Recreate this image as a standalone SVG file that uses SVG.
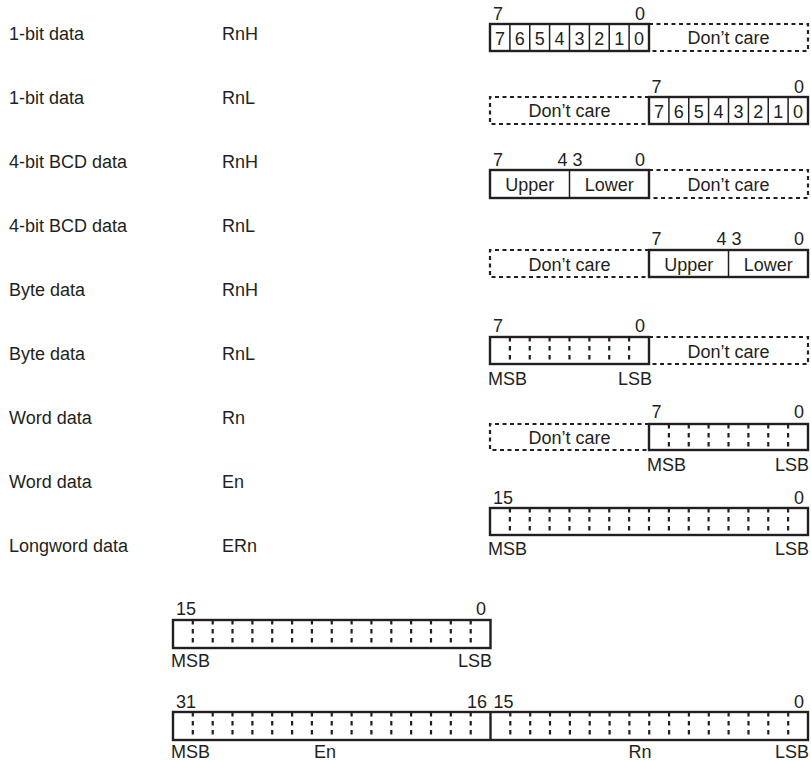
<svg xmlns="http://www.w3.org/2000/svg" width="811" height="761" viewBox="0 0 811 761">
<style>
.t{font-family:"Liberation Sans",Arial,sans-serif;font-size:18px;fill:#231f20}
.m{text-anchor:middle}
.e{text-anchor:end}
.box{fill:none;stroke:#231f20;stroke-width:2.4}
.dv{fill:none;stroke:#231f20;stroke-width:1.5}
.dash{fill:none;stroke:#231f20;stroke-width:2.2;stroke-dasharray:4 3.5}
.tick{fill:none;stroke:#231f20;stroke-width:2.2;stroke-dasharray:4.5 4.5}
</style>
<rect width="811" height="761" fill="#fff"/>
<g id="labels">
<text class="t" x="9" y="39.5">1-bit data</text><text class="t" x="222" y="39.5">RnH</text>
<text class="t" x="9" y="103.5">1-bit data</text><text class="t" x="222" y="103.5">RnL</text>
<text class="t" x="9" y="167.5">4-bit BCD data</text><text class="t" x="222" y="167.5">RnH</text>
<text class="t" x="9" y="231.5">4-bit BCD data</text><text class="t" x="222" y="231.5">RnL</text>
<text class="t" x="9" y="295.5">Byte data</text><text class="t" x="222" y="295.5">RnH</text>
<text class="t" x="9" y="359.5">Byte data</text><text class="t" x="222" y="359.5">RnL</text>
<text class="t" x="9" y="423.5">Word data</text><text class="t" x="222" y="423.5">Rn</text>
<text class="t" x="9" y="487.5">Word data</text><text class="t" x="222" y="487.5">En</text>
<text class="t" x="9" y="551.5">Longword data</text><text class="t" x="222" y="551.5">ERn</text>
</g>
<g id="reg1">
<text class="t" x="493" y="20">7</text><text class="t e" x="645" y="20">0</text>
<path class="dash" d="M649,24 H808 V51 H649"/>
<rect class="box" x="490" y="24" width="159" height="27"/>
<path class="dv" d="M509.9,24V51M529.75,24V51M549.6,24V51M569.5,24V51M589.4,24V51M609.25,24V51M629.1,24V51"/>
<g class="t m"><text x="500" y="45">7</text><text x="519.8" y="45">6</text><text x="539.7" y="45">5</text><text x="559.6" y="45">4</text><text x="579.4" y="45">3</text><text x="599.3" y="45">2</text><text x="619.2" y="45">1</text><text x="639.1" y="45">0</text></g>
<text class="t m" x="728.5" y="44">Don’t care</text>
</g>
<g id="reg2">
<text class="t" x="651.5" y="93">7</text><text class="t e" x="804" y="93">0</text>
<path class="dash" d="M649,97 H490 V124 H649"/>
<rect class="box" x="649" y="97" width="159" height="27"/>
<path class="dv" d="M668.9,97V124M688.75,97V124M708.6,97V124M728.5,97V124M748.4,97V124M768.25,97V124M788.1,97V124"/>
<g class="t m"><text x="658.9" y="118">7</text><text x="678.8" y="118">6</text><text x="698.7" y="118">5</text><text x="718.6" y="118">4</text><text x="738.4" y="118">3</text><text x="758.3" y="118">2</text><text x="778.2" y="118">1</text><text x="798.1" y="118">0</text></g>
<text class="t m" x="569.5" y="117">Don’t care</text>
</g>
<g id="reg3">
<text class="t" x="493" y="166">7</text><text class="t e" x="567.5" y="166">4</text><text class="t" x="572.5" y="166">3</text><text class="t e" x="645" y="166">0</text>
<path class="dash" d="M649,170 H808 V198 H649"/>
<rect class="box" x="490" y="170" width="159" height="28"/>
<path class="dv" d="M569.5,170V198"/>
<text class="t m" x="529.75" y="191">Upper</text><text class="t m" x="609.25" y="191">Lower</text>
<text class="t m" x="728.5" y="191">Don’t care</text>
</g>
<g id="reg4">
<text class="t" x="651.5" y="245">7</text><text class="t e" x="726.5" y="245">4</text><text class="t" x="731.5" y="245">3</text><text class="t e" x="804" y="245">0</text>
<path class="dash" d="M649,250 H490 V277 H649"/>
<rect class="box" x="649" y="250" width="159" height="27"/>
<path class="dv" d="M728.5,250V277"/>
<text class="t m" x="688.75" y="270.5">Upper</text><text class="t m" x="768.25" y="270.5">Lower</text>
<text class="t m" x="569.5" y="270.5">Don’t care</text>
</g>
<g id="reg5">
<text class="t" x="493" y="332">7</text><text class="t e" x="645" y="332">0</text>
<path class="dash" d="M649,337 H808 V364 H649"/>
<rect class="box" x="490" y="337" width="159" height="27"/>
<path class="tick" d="M509.9,337V364M529.75,337V364M549.6,337V364M569.5,337V364M589.4,337V364M609.25,337V364M629.1,337V364"/>
<text class="t m" x="728.5" y="357.5">Don’t care</text>
<text class="t" x="488" y="385">MSB</text><text class="t e" x="652" y="385">LSB</text>
</g>
<g id="reg6">
<text class="t" x="651.5" y="418">7</text><text class="t e" x="804" y="418">0</text>
<path class="dash" d="M649,424 H490 V450 H649"/>
<rect class="box" x="649" y="424" width="159" height="26"/>
<path class="tick" d="M668.9,424V450M688.75,424V450M708.6,424V450M728.5,424V450M748.4,424V450M768.25,424V450M788.1,424V450"/>
<text class="t m" x="569.5" y="443.5">Don’t care</text>
<text class="t" x="647" y="471">MSB</text><text class="t e" x="809" y="471">LSB</text>
</g>
<g id="reg7">
<text class="t" x="493" y="504">15</text><text class="t e" x="804" y="504">0</text>
<rect class="box" x="490" y="508" width="318" height="27"/>
<path class="tick" d="M509.9,508V535M529.75,508V535M549.6,508V535M569.5,508V535M589.4,508V535M609.25,508V535M629.1,508V535M649,508V535M668.9,508V535M688.75,508V535M708.6,508V535M728.5,508V535M748.4,508V535M768.25,508V535M788.1,508V535"/>
<text class="t" x="488" y="555">MSB</text><text class="t e" x="809" y="555">LSB</text>
</g>
<g id="reg8">
<text class="t" x="176" y="615">15</text><text class="t e" x="486" y="615">0</text>
<rect class="box" x="173" y="620" width="317.5" height="28"/>
<path class="tick" d="M192.8,620V648M212.7,620V648M232.5,620V648M252.4,620V648M272.2,620V648M292.1,620V648M311.9,620V648M331.75,620V648M351.6,620V648M371.4,620V648M391.3,620V648M411.1,620V648M431,620V648M450.8,620V648M470.7,620V648"/>
<text class="t" x="171" y="667">MSB</text><text class="t e" x="492" y="667">LSB</text>
</g>
<g id="reg9">
<text class="t" x="176" y="708">31</text><text class="t e" x="487" y="708">16</text><text class="t" x="493.5" y="708">15</text><text class="t e" x="804" y="708">0</text>
<rect class="box" x="173" y="712" width="635" height="28"/>
<path class="dv" d="M490.5,712V740" style="stroke-width:2.4"/>
<path class="tick" d="M192.8,712V740M212.7,712V740M232.5,712V740M252.4,712V740M272.2,712V740M292.1,712V740M311.9,712V740M331.75,712V740M351.6,712V740M371.4,712V740M391.3,712V740M411.1,712V740M431,712V740M450.8,712V740M470.7,712V740M510.3,712V740M530.2,712V740M550,712V740M569.9,712V740M589.7,712V740M609.6,712V740M629.4,712V740M649.25,712V740M669.1,712V740M688.9,712V740M708.8,712V740M728.6,712V740M748.5,712V740M768.3,712V740M788.2,712V740"/>
<text class="t" x="171" y="758">MSB</text><text class="t m" x="325" y="758">En</text><text class="t m" x="640" y="758">Rn</text><text class="t e" x="809" y="758">LSB</text>
</g>
<g id="connectors"/>
</svg>
